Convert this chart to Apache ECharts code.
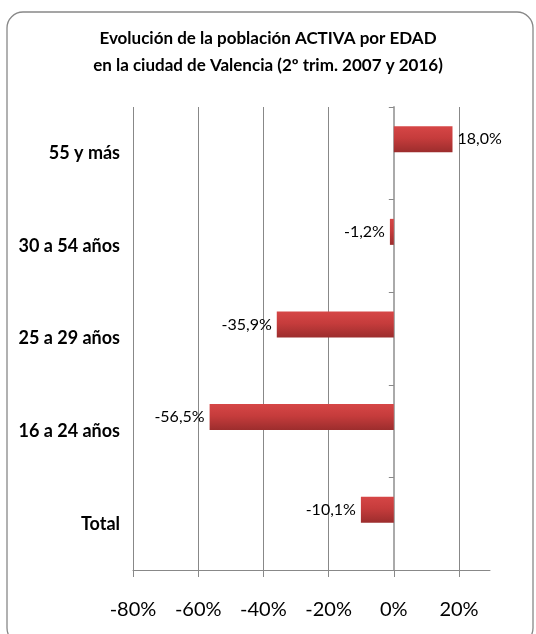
<!DOCTYPE html>
<html>
<head>
<meta charset="utf-8">
<script src="https://cdn.jsdelivr.net/npm/echarts@6/dist/echarts.min.js"></script>
<style>html,body{margin:0;padding:0;background:#fff}#c{width:536px;height:634px}</style>
</head>
<body>
<div id="c"></div>
<script>
const titleText = 'Evolución de la población ACTIVA por EDAD\nen la ciudad de Valencia (2º trim. 2007 y 2016)';
const categories = ['55 y más', '30 a 54 años', '25 a 29 años', '16 a 24 años', 'Total'];
const values = [18.0, -1.2, -35.9, -56.5, -10.1];
const tickValues = [-80, -60, -40, -20, 0, 20];
const axisMin = -80, axisMax = 29.5;

const FONT = 'Lato';
const chart = echarts.init(document.getElementById('c'), null, {renderer: 'canvas'});
const fmtPct = v => v.toFixed(1).replace('.', ',') + '%';

chart.setOption({
  backgroundColor: '#fff',
  animation: false,
  title: {
    text: titleText,
    left: 'center',
    top: 20,
    textStyle: {fontFamily: FONT, fontWeight: 'bold', fontSize: 17, color: '#000', lineHeight: 27}
  },
  graphic: [{
    type: 'rect',
    shape: {x: 7, y: 12, width: 526, height: 632, r: 16},
    style: {fill: 'none', stroke: '#888', lineWidth: 1.3},
    silent: true, z: 100
  }],
  grid: {left: 133, right: 46, top: 107, bottom: 64},
  xAxis: {
    type: 'value',
    min: axisMin, max: axisMax, interval: 20,
    axisLine: {show: true, onZero: false, lineStyle: {color: '#888', width: 1}},
    axisTick: {show: true, length: 7, lineStyle: {color: '#888'}, customValues: tickValues},
    axisLabel: {
      customValues: tickValues,
      margin: 30,
      fontFamily: FONT, fontSize: 20, color: '#000',
      formatter: v => v + '%'
    },
    splitLine: {show: true, lineStyle: {color: ['#888','#888','#888','#888','#888','#888','rgba(0,0,0,0)'], width: 1}}
  },
  yAxis: [{
    type: 'category',
    data: categories,
    inverse: true,
    axisLine: {show: false, onZero: false},
    axisTick: {show: false},
    axisLabel: {margin: 13, fontFamily: FONT, fontWeight: 'bold', fontSize: 18, color: '#000'}
  }, {
    type: 'category',
    data: categories,
    inverse: true,
    position: 'left',
    axisLine: {show: true, onZero: true, onZeroAxisIndex: 0, lineStyle: {color: '#aaa', width: 2}},
    axisTick: {show: true, length: 5, lineStyle: {color: '#888'}},
    axisLabel: {show: false}
  }],
  series: [{
    type: 'bar',
    name: 'Variación',
    data: values.map(v => v < 0 ? {value: v, label: {position: 'left'}} : v),
    barWidth: 26,
    barGap: '8%',
    itemStyle: {
      color: new echarts.graphic.LinearGradient(0, 0, 0, 1, [
        {offset: 0, color: '#d64646'},
        {offset: 0.45, color: '#c63c3c'},
        {offset: 1, color: '#9c2d2d'}
      ])
    },
    label: {
      show: true,
      position: 'right',
      distance: 5,
      fontFamily: FONT, fontSize: 16, color: '#000',
      formatter: p => fmtPct(p.value)
    }
  }, {
    type: 'bar',
    name: 'hueco',
    data: [],
    barWidth: 26
  }]
});
</script>
</body>
</html>
